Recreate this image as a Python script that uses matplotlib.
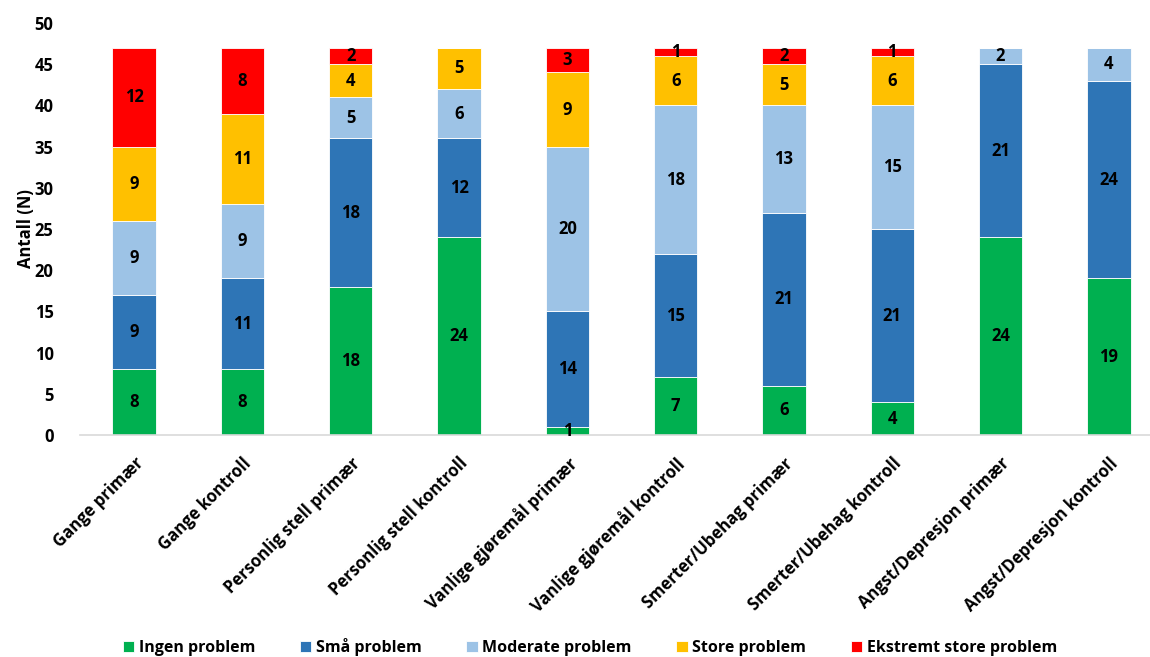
import matplotlib
matplotlib.use("Agg")
import matplotlib.pyplot as plt
import numpy as np

categories = ["Gange primær", "Gange kontroll", "Personlig stell primær",
              "Personlig stell kontroll", "Vanlige gjøremål primær",
              "Vanlige gjøremål kontroll", "Smerter/Ubehag primær",
              "Smerter/Ubehag kontroll", "Angst/Depresjon primær",
              "Angst/Depresjon kontroll"]
series_names = ["Ingen problem", "Små problem", "Moderate problem",
                "Store problem", "Ekstremt store problem"]
ingen = [8, 8, 18, 24, 1, 7, 6, 4, 24, 19]
sma = [9, 11, 18, 12, 14, 15, 21, 21, 21, 24]
moderate = [9, 9, 5, 6, 20, 18, 13, 15, 2, 4]
store = [9, 11, 4, 5, 9, 6, 5, 6, 0, 0]
ekstremt = [12, 8, 2, 0, 3, 1, 2, 1, 0, 0]
colors = ["#00B050", "#2E75B6", "#9DC3E6", "#FFC000", "#FF0000"]

plt.rcParams['font.family'] = ['Open Sans', 'DejaVu Sans']
plt.rcParams['font.weight'] = 'bold'

FS = 12

fig = plt.figure(figsize=(11.5, 6.57), dpi=100)
W, H = 1150, 657
left, right, bottom, top = 80, 1150, 435, 23
ax = fig.add_axes([left / W, 1 - bottom / H, (right - left) / W, (bottom - top) / H])

x = np.arange(len(categories))
bottoms = np.zeros(len(categories))
all_series = [ingen, sma, moderate, store, ekstremt]
for name, vals, c in zip(series_names, all_series, colors):
    vals = np.array(vals, dtype=float)
    ax.bar(x, vals, width=0.4, bottom=bottoms, color=c, label=name,
           edgecolor="white", linewidth=0.6)
    for xi, b, v in zip(x, bottoms, vals):
        if v > 0:
            ax.text(xi, b + v / 2, f"{int(v)}", ha="center", va="center",
                    fontsize=FS, fontweight="bold", color="black")
    bottoms += vals

ax.set_xlim(-0.5, 9.38)
ax.set_ylim(0, 50)
ax.set_yticks(np.arange(0, 51, 5))
ax.set_xticks(x)
ax.set_xticklabels(categories, rotation=45, ha="right", rotation_mode="anchor",
                   fontsize=FS, fontweight="bold")
for lbl in ax.get_yticklabels():
    lbl.set_fontweight("bold")
    lbl.set_fontsize(FS)
ax.tick_params(axis="both", length=0)
ax.tick_params(axis="y", pad=19)
ax.tick_params(axis="x", pad=14)
for s in ["top", "right", "left"]:
    ax.spines[s].set_visible(False)
ax.spines["bottom"].set_color("#D9D9D9")
ax.spines["bottom"].set_linewidth(1.2)
ax.set_ylabel("Antall (N)", fontsize=FS, fontweight="bold", labelpad=0)

handles, labels = ax.get_legend_handles_labels()
fig.legend(handles, labels, loc="center", bbox_to_anchor=(590 / W, 1 - 647 / H),
           ncol=5, frameon=False, handlelength=0.7, handleheight=0.7,
           handletextpad=0.3, columnspacing=2.8, prop={"weight": "bold", "size": 11.5})

fig.savefig("out.png", dpi=100)
